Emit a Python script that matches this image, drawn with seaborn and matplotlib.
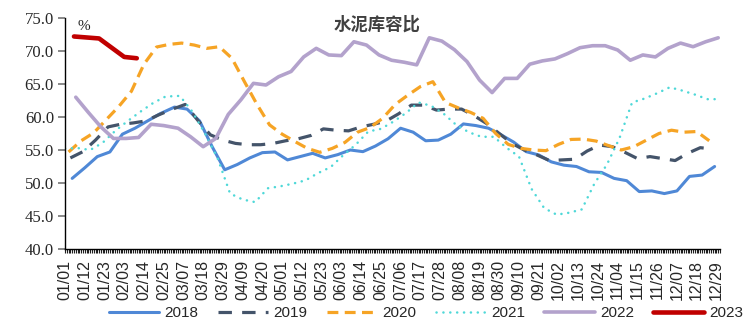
import numpy as np
import pandas as pd
import matplotlib
matplotlib.use("Agg")
import matplotlib.pyplot as plt
import matplotlib.dates as mdates
from matplotlib.ticker import FormatStrFormatter
import seaborn as sns

# Weekly cement storage-to-capacity ratio (%), one list per year
start_2018 = "2018-01-05"
ratio_2018 = [50.7, 52.3, 54.0, 54.7, 57.4, 58.3, 59.4, 60.5, 61.5, 61.2,
              59.4, 55.5, 52.0, 52.8, 53.8, 54.6, 54.7, 53.5, 54.0, 54.5,
              53.8, 54.3, 55.0, 54.75, 55.6, 56.7, 58.3, 57.7, 56.4, 56.5,
              57.4, 58.95, 58.7, 58.3, 57.3, 56.2, 54.75, 54.25, 53.2, 52.7,
              52.5, 51.7, 51.6, 50.7, 50.35, 48.7, 48.8, 48.4, 48.8, 51.0,
              51.2, 52.5]

start_2019 = "2019-01-04"
ratio_2019 = [53.8, 54.75, 56.5, 58.5, 58.9, 59.1, 59.4, 60.3, 61.2, 61.9,
              59.5, 57.3, 56.5, 56.0, 55.8, 55.8, 56.0, 56.4, 56.7, 57.2,
              58.2, 58.0, 57.9, 58.5, 58.9, 59.4, 60.5, 61.8, 61.8, 61.05,
              61.2, 61.2, 60.2, 59.0, 57.5, 56.0, 55.0, 54.25, 53.4, 53.5,
              53.6, 54.85, 55.75, 55.5, 54.65, 53.7, 54.0, 53.7, 53.4, 54.5,
              55.35, 55.15]

start_2020 = "2020-01-03"
ratio_2020 = [54.7, 56.4, 57.6, 59.6, 61.6, 63.9, 68.0, 70.6, 71.0, 71.2,
              70.9, 70.4, 70.65, 68.9, 65.35, 61.9, 58.8, 57.4, 56.3, 55.25,
              54.65, 55.25, 56.15, 57.7, 58.4, 59.8, 61.9, 63.3, 64.6, 65.35,
              62.2, 61.4, 60.7, 59.8, 57.5, 55.85, 55.25, 55.0, 54.9, 55.85,
              56.6, 56.65, 56.35, 55.65, 55.0, 55.5, 56.5, 57.5, 58.0, 57.7,
              57.8, 56.4]

start_2021 = "2021-01-01"
ratio_2021 = [55.2, 55.3, 55.0, 56.1, 57.9, 59.4, 60.8, 62.1, 63.1, 63.2,
              60.8, 57.5, 53.8, 48.4, 47.5, 47.1, 49.2, 49.5, 49.9, 50.4,
              51.5, 52.4, 54.2, 55.8, 57.8, 58.2, 59.3, 60.6, 62.2, 61.7,
              60.5, 58.8, 57.7, 57.0, 57.0, 55.35, 54.0, 49.1, 46.2, 45.2,
              45.5, 46.0, 49.9, 52.8, 56.8, 62.2, 62.8, 63.6, 64.5, 64.0,
              63.4, 62.7, 62.7]

start_2022 = "2022-01-07"
ratio_2022 = [63.0, 60.7, 58.5, 56.75, 56.75, 56.9, 58.9, 58.7, 58.3, 57.0,
              55.5, 56.75, 60.4, 62.6, 65.1, 64.85, 66.1, 66.9, 69.1, 70.4,
              69.4, 69.3, 71.4, 70.9, 69.4, 68.6, 68.3, 67.9, 72.0, 71.5,
              70.2, 68.4, 65.6, 63.7, 65.85, 65.85, 68.0, 68.5, 68.8, 69.6,
              70.5, 70.8, 70.8, 70.15, 68.6, 69.4, 69.1, 70.4, 71.2, 70.65,
              71.4, 72.0]

dates_2023 = ["2023-01-06", "2023-01-20", "2023-02-03", "2023-02-10"]
ratio_2023 = [72.2, 71.9, 69.1, 68.9]

year_labels = ["2018", "2019", "2020", "2021", "2022", "2023"]
tick_dates = pd.date_range("2020-01-01", "2020-12-31", freq="11D")


def weekly(start, values):
    return pd.date_range(start, periods=len(values), freq="7D")


def to_common_year(dates):
    # put every year's dates on the 2020 calendar so the seasons line up
    d = pd.DatetimeIndex(dates)
    return pd.to_datetime(pd.DataFrame({"year": 2020, "month": d.month, "day": d.day}))


series = [
    (weekly(start_2018, ratio_2018), ratio_2018),
    (weekly(start_2019, ratio_2019), ratio_2019),
    (weekly(start_2020, ratio_2020), ratio_2020),
    (weekly(start_2021, ratio_2021), ratio_2021),
    (weekly(start_2022, ratio_2022), ratio_2022),
    (pd.to_datetime(dates_2023), ratio_2023),
]

styles = [
    dict(color="#4F88D6", linewidth=2.2, linestyle="-"),
    dict(color="#44546A", linewidth=2.3, linestyle=(0, (4.2, 3.2))),
    dict(color="#F6A425", linewidth=2.3, linestyle=(0, (3.4, 2.0))),
    dict(color="#4FD8D8", linewidth=1.8, linestyle=(0, (0.05, 2.7)),
         dash_capstyle="round"),
    dict(color="#B3A2CC", linewidth=2.6, linestyle="-"),
    dict(color="#C00000", linewidth=3.3, linestyle="-"),
]

sns.set_style("white")
plt.rcParams["font.family"] = ["Liberation Sans", "DejaVu Sans"]

fig = plt.figure(figsize=(7.53, 3.25), dpi=100)
ax = fig.add_axes([65 / 753, 1 - 249 / 325, 655 / 753, 231 / 325])

for label, (dates, values), st in zip(year_labels, series, styles):
    frame = pd.DataFrame({"date": to_common_year(dates), "ratio": values})
    sns.lineplot(data=frame, x="date", y="ratio", ax=ax, label=label,
                 solid_joinstyle="round", sort=False, **st)

ax.set_xlim(pd.Timestamp("2020-01-01"), pd.Timestamp("2020-12-31"))
ax.set_ylim(40, 75)
ax.set_yticks(np.arange(40, 75.1, 5))
ax.yaxis.set_major_formatter(FormatStrFormatter("%.1f"))
ax.set_xticks(tick_dates)
ax.xaxis.set_major_formatter(mdates.DateFormatter("%m/%d"))
ax.xaxis.set_minor_locator(mdates.DayLocator())
ax.set_xlabel("")
ax.set_ylabel("")

for side in ("top", "right"):
    ax.spines[side].set_visible(False)
for side in ("left", "bottom"):
    ax.spines[side].set_color("black")
    ax.spines[side].set_linewidth(1.0)

ax.tick_params(axis="y", which="major", direction="out", length=5, width=1.3,
               color="#7F7F7F", pad=3, left=True)
for t in ax.get_yticklabels():
    t.set_fontfamily("Liberation Serif")
    t.set_fontsize(12)
ax.tick_params(axis="x", which="both", direction="out", length=3, width=0.8,
               color="#202020", bottom=True)
ax.tick_params(axis="x", which="major", pad=5, labelrotation=90, labelsize=11.5)

ax.text(0.476, 0.97, "水泥库容比", transform=ax.transAxes, ha="center",
        va="center", fontsize=12.5, fontweight="bold", color="#404040",
        family=["Noto Sans CJK SC", "DejaVu Sans"])
ax.text(0.028, 0.962, "%", transform=ax.transAxes, ha="center", va="center",
        fontsize=11, family="Liberation Serif", color="#202020")

handles, labels = ax.get_legend_handles_labels()
ax.get_legend().remove()
fig.legend(handles, labels, loc="center", bbox_to_anchor=(426 / 753, 12 / 325),
           ncol=6, frameon=False, handlelength=3.3, handletextpad=0.35,
           columnspacing=1.25, prop={"family": "Liberation Sans", "size": 11})

fig.savefig("out.png", dpi=100)
